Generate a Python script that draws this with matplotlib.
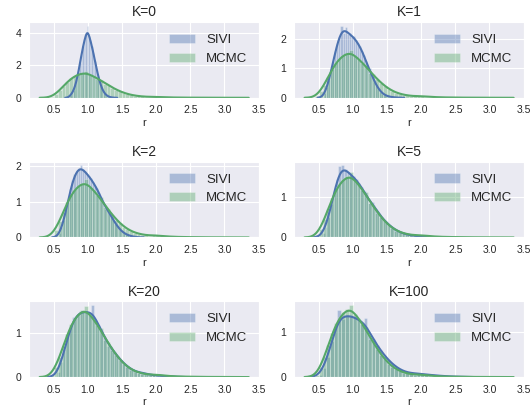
import numpy as np
import matplotlib.pyplot as plt
import seaborn as sns

sns.set_style("darkgrid")
plt.rcParams['font.family'] = ['Liberation Sans', 'DejaVu Sans']

# ---- data (density histograms) ----
titles = ["K=0", "K=1", "K=2", "K=5", "K=20", "K=100"]
yticks = [[0, 2, 4], [0, 1, 2], [0, 1, 2], [0, 1], [0, 1], [0, 1]]
xticks = [0.5, 1.0, 1.5, 2.0, 2.5, 3.0, 3.5]

# MCMC samples are the same for every panel: first bin edge, bin width, heights
mcmc_start, mcmc_width = 0.45, 0.055
mcmc_hist = [0.05, 0.22, 0.45, 0.72, 0.98, 1.22, 1.35, 1.45, 1.52, 1.62,
             1.42, 1.33, 1.18, 1.12, 0.85, 0.80, 0.62, 0.50, 0.40, 0.30,
             0.23, 0.17, 0.13, 0.10, 0.08, 0.06, 0.05, 0.06, 0.06, 0.04,
             0.03, 0.025, 0.02, 0.015, 0.012, 0.01, 0.01, 0.008, 0.006, 0.005,
             0.004, 0.004, 0.003, 0.003, 0.002, 0.002, 0.002, 0.001, 0.001, 0.002]

sivi_start = [0.72, 0.58, 0.58, 0.55, 0.55, 0.50]
sivi_width = [0.022, 0.03, 0.03, 0.04, 0.045, 0.055]
sivi_k0 = [0.09, 0.18, 0.30, 0.50, 0.77, 1.14, 1.59, 2.12, 2.66, 3.17,
           3.59, 3.84, 4.45, 3.79, 3.53, 3.17, 2.73, 2.26, 1.80, 1.37,
           1.01, 0.71, 0.48, 0.31, 0.20, 0.12, 0.07, 0.04, 0.02, 0.01]
sivi_k1 = [0.15, 0.35, 0.60, 0.90, 1.25, 1.60, 1.85, 2.05, 2.45, 2.20,
           2.40, 2.15, 2.20, 2.05, 2.10, 1.95, 1.85, 1.75, 1.60, 1.45,
           1.25, 0.95, 1.00, 0.70, 0.55, 0.42, 0.30, 0.20, 0.14, 0.09,
           0.06, 0.04, 0.03, 0.02, 0.01, 0.01]
sivi_k2 = [0.12, 0.28, 0.50, 0.78, 1.05, 1.35, 1.60, 1.78, 1.85, 1.95,
           2.02, 1.90, 1.85, 1.78, 1.72, 1.65, 1.55, 1.45, 1.38, 1.25,
           1.10, 0.98, 0.80, 0.82, 0.68, 0.58, 0.48, 0.38, 0.30, 0.22,
           0.16, 0.12, 0.09, 0.06, 0.04, 0.03, 0.02, 0.01]
sivi_k5 = [0.10, 0.25, 0.50, 0.82, 1.15, 1.45, 1.78, 1.80, 1.70, 1.63,
           1.55, 1.52, 1.45, 1.35, 1.25, 1.15, 1.00, 0.85, 0.88, 0.72,
           0.62, 0.52, 0.44, 0.37, 0.31, 0.25, 0.20, 0.16, 0.13, 0.10,
           0.08, 0.07, 0.05, 0.04, 0.035, 0.03, 0.025, 0.02, 0.015, 0.01]
sivi_k20 = [0.12, 0.35, 0.65, 0.92, 1.20, 1.38, 1.42, 1.50, 1.52, 1.48,
            1.42, 1.65, 1.30, 1.18, 1.05, 0.92, 0.72, 0.70, 0.58, 0.48,
            0.40, 0.32, 0.26, 0.20, 0.16, 0.12, 0.10, 0.11, 0.09, 0.06,
            0.05, 0.04, 0.035, 0.03, 0.025, 0.02, 0.015, 0.01, 0.008, 0.005]
sivi_k100 = [0.05, 0.20, 0.45, 0.80, 1.10, 1.50, 1.30, 1.40, 1.38, 1.35,
             1.30, 1.20, 1.32, 0.95, 0.85, 0.72, 0.60, 0.48, 0.38, 0.30,
             0.23, 0.17, 0.13, 0.10, 0.09, 0.08, 0.08, 0.07, 0.06, 0.05,
             0.04, 0.035, 0.03, 0.02, 0.015, 0.012, 0.01, 0.008, 0.005, 0.003]
sivi_hists = [sivi_k0, sivi_k1, sivi_k2, sivi_k5, sivi_k20, sivi_k100]

BLUE = "#4C72B0"
GREEN = "#55A868"


def hist_kde(ax, start, width, heights, color, label):
    h = np.asarray(heights)
    centers = start + width * (np.arange(len(h)) + 0.5)
    ax.bar(centers, h, width=width, color=color, alpha=0.4,
           edgecolor="white", linewidth=0.4, label=label)
    # gaussian kde over the binned density
    w = h * width
    mu = np.sum(w * centers) / w.sum()
    sd = np.sqrt(np.sum(w * (centers - mu) ** 2) / w.sum())
    bw = 0.25 * sd
    lo, hi = start - 2 * bw, start + width * len(h) + 2 * bw
    xs = np.linspace(lo, hi, 400)
    dens = (w[None, :] * np.exp(-0.5 * ((xs[:, None] - centers[None, :]) / bw) ** 2)).sum(1)
    dens /= bw * np.sqrt(2 * np.pi)
    ax.plot(xs, dens, color=color, lw=1.5)


fig, axes = plt.subplots(3, 2, figsize=(5.31, 4.13), dpi=100)
for i, ax in enumerate(axes.flat):
    hist_kde(ax, sivi_start[i], sivi_width[i], sivi_hists[i], BLUE, "SIVI")
    hist_kde(ax, mcmc_start, mcmc_width, mcmc_hist, GREEN, "MCMC")
    ax.set_title(titles[i], fontsize=10, pad=4)
    ax.set_xlabel("r", fontsize=8, labelpad=2)
    ax.set_xticks(xticks)
    ax.set_yticks(yticks[i])
    ax.tick_params(labelsize=7.5, pad=2)
    ax.legend(loc="upper right", fontsize=9.5, frameon=False)

plt.subplots_adjust(left=0.055, right=0.987, top=0.947, bottom=0.087,
                    wspace=0.152, hspace=0.84)
plt.savefig("out.png", dpi=100)
